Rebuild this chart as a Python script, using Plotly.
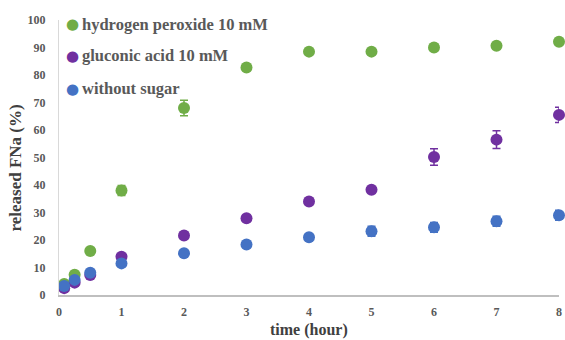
import plotly.graph_objects as go

time_h = [0.083, 0.25, 0.5, 1, 2, 3, 4, 5, 6, 7, 8]
h2o2 = [4.0, 7.4, 16.0, 38.0, 68.0, 82.7, 88.5, 88.5, 90.0, 90.6, 92.1]
h2o2_err = [0.5, 0.5, 0.5, 1.8, 2.8, 0.8, 0.8, 0.8, 0.8, 0.8, 0.8]
gluconic = [2.5, 4.5, 7.3, 13.9, 21.6, 27.9, 34.0, 38.3, 50.2, 56.5, 65.5]
gluconic_err = [0.5, 0.5, 0.5, 0.8, 0.8, 0.8, 0.8, 0.8, 3.0, 3.2, 2.8]
nosugar = [3.3, 5.5, 8.1, 11.5, 15.2, 18.4, 21.0, 23.2, 24.6, 26.8, 29.0]
nosugar_err = [0.5, 0.5, 0.5, 0.8, 0.8, 0.8, 0.8, 1.8, 1.8, 1.8, 1.8]

names = ["hydrogen peroxide 10 mM", "gluconic acid 10 mM", "without sugar"]
colors = ["#70AD47", "#7030A0", "#4472C4"]
series = [(h2o2, h2o2_err), (gluconic, gluconic_err), (nosugar, nosugar_err)]

x_ticks = [0, 1, 2, 3, 4, 5, 6, 7, 8]
y_ticks = [0, 10, 20, 30, 40, 50, 60, 70, 80, 90, 100]

serif = "Liberation Serif, Times New Roman, serif"

fig = go.Figure()
for i, ((vals, errs), name, col) in enumerate(zip(series, names, colors)):
    fig.add_trace(go.Scatter(
        x=time_h, y=vals, mode="markers", name=name,
        marker=dict(color=col, size=12, line=dict(width=0)),
        error_y=dict(type="data", array=errs, visible=True, color=col,
                     thickness=1.5, width=4),
        cliponaxis=False, showlegend=False,
    ))

# legend as text annotations (compact symbol-to-text gap like the reference)
leg_y = [0.985, 0.87, 0.75]
for name, col, yy in zip(names, colors, leg_y):
    fig.add_annotation(xref="paper", yref="paper", x=0.026, y=yy,
                       xanchor="center", yanchor="middle", showarrow=False,
                       text="●", font=dict(family="DejaVu Sans", size=15, color=col))
    fig.add_annotation(xref="paper", yref="paper", x=0.042, y=yy,
                       xanchor="left", yanchor="middle", showarrow=False,
                       text=f"<b>{name}</b>",
                       font=dict(family=serif, size=16.5, color="#595959"))

fig.add_annotation(xref="paper", yref="paper", x=-0.088, y=0.46,
                   xanchor="center", yanchor="middle", showarrow=False,
                   textangle=-90, text="<b>released FNa (%)</b>",
                   font=dict(family=serif, size=17, color="#404040"))
fig.add_annotation(xref="paper", yref="paper", x=0.5, y=-0.128,
                   xanchor="center", yanchor="middle", showarrow=False,
                   text="<b>time (hour)</b>",
                   font=dict(family=serif, size=16, color="#404040"))

fig.update_layout(
    width=565, height=340,
    margin=dict(l=59, r=6, t=20, b=45),
    paper_bgcolor="white", plot_bgcolor="white",
    font=dict(family=serif, color="#595959"),
    showlegend=False,
    xaxis=dict(
        range=[0, 8], tickvals=x_ticks, ticktext=[f"<b>{v}</b>" for v in x_ticks],
        showgrid=False, zeroline=False, showline=True, automargin=False,
        linecolor="#BFBFBF", linewidth=1.5, ticks="", ticklabelstandoff=5,
        tickfont=dict(family=serif, size=12, color="#595959"),
    ),
    yaxis=dict(
        range=[0, 100], tickvals=y_ticks, ticktext=[f"<b>{v}</b>" for v in y_ticks],
        showgrid=False, zeroline=False, showline=True, automargin=False,
        linecolor="#D9D9D9", linewidth=1, ticks="", ticklabelstandoff=10,
        tickfont=dict(family=serif, size=12, color="#595959"),
    ),
)

fig.write_html("out.html")
